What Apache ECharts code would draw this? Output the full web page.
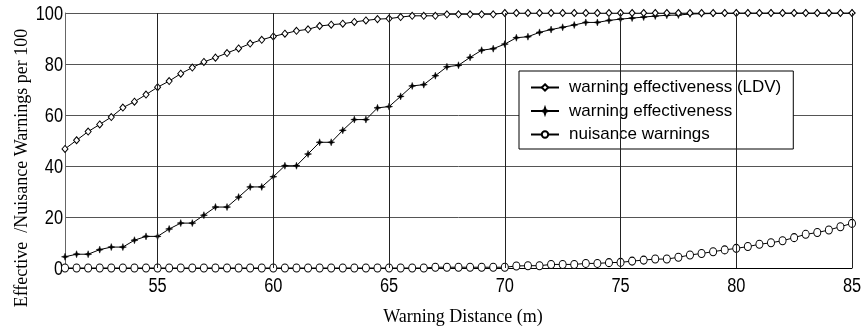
<!DOCTYPE html>
<html>
<head>
<meta charset="utf-8">
<script src="https://cdn.jsdelivr.net/npm/echarts@6/dist/echarts.min.js"></script>
<style>
html,body{margin:0;padding:0;background:#fff;}
#chart{width:867px;height:335px;}
</style>
</head>
<body>
<div id="chart"></div>
<script>
const distances = [51,51.5,52,52.5,53,53.5,54,54.5,55,55.5,56,56.5,57,57.5,58,58.5,59,59.5,60,60.5,61,61.5,62,62.5,63,63.5,64,64.5,65,65.5,66,66.5,67,67.5,68,68.5,69,69.5,70,70.5,71,71.5,72,72.5,73,73.5,74,74.5,75,75.5,76,76.5,77,77.5,78,78.5,79,79.5,80,80.5,81,81.5,82,82.5,83,83.5,84,84.5,85];
const ldvEffectiveness = [46.7,50.1,53.5,56.3,59.2,62.9,65.2,68,70.9,73.3,76.2,78.6,80.8,82.5,84.3,86.1,88,89.5,90.8,91.9,93,93.6,94.9,95.4,95.8,96.5,97.1,97.6,97.8,98.4,98.9,98.9,98.9,99.5,99.5,99.5,99.5,99.5,100,100,100,100,100,100,100,100,100,100,100,100,100,100,100,100,100,100,100,100,100,100,100,100,100,100,100,100,100,100,100];
const effectiveness = [4.4,5.4,5.4,7.2,8.2,8.2,10.9,12.4,12.4,15.3,17.6,17.6,20.7,23.9,23.9,27.8,31.8,31.8,35.8,40.1,40.1,44.7,49.3,49.3,54,58.2,58.2,62.8,63.3,67.3,71.4,71.9,75.4,78.9,79.5,82.6,85.4,86,87.8,90.3,90.7,92.4,93.5,94.4,95.3,96.3,96.3,97.1,97.6,98,98.4,98.8,99.1,99.2,99.6,99.7,99.8,99.9,100,100,100,100,100,100,100,100,100,100,100];
const nuisance = [0,0,0,0,0,0,0,0,0,0,0,0,0,0,0,0,0,0,0,0,0,0,0,0,0,0,0,0,0,0,0,0,0.3,0.3,0.3,0.3,0.3,0.3,0.3,0.8,0.9,0.9,1.4,1.4,1.4,1.8,1.8,2.1,2.2,2.7,3.1,3.5,3.5,4.2,5.1,5.7,6.4,7.1,7.7,8.4,9.3,9.9,10.7,11.9,13.2,13.9,14.9,16.2,17.5];
const xTicks = [55,60,65,70,75,80,85];
const yTicks = [0,20,40,60,80,100];
const seriesNames = ['warning effectiveness (LDV)','warning effectiveness','nuisance warnings'];

const sans = "'Liberation Sans',Arial,sans-serif";
const serif = "'Liberation Serif','Times New Roman',serif";
const pair = arr => distances.map((d,i)=>[d,arr[i]]);
const starPath = 'path://M0,-10 L2.5,-2.5 L10,0 L2.5,2.5 L0,10 L-2.5,2.5 L-10,0 L-2.5,-2.5Z';

const chart = echarts.init(document.getElementById('chart'), null, {renderer:'canvas'});
chart.setOption({
  animation:false,
  backgroundColor:'#fff',
  grid:{left:65,right:15,top:13,bottom:67,containLabel:false},
  legend:{
    orient:'vertical', left:519, top:71,
    padding:[8,12,6,11],
    backgroundColor:'#fff', borderColor:'#000', borderWidth:1,
    itemWidth:28, itemHeight:8, itemGap:6.5,
    data:seriesNames,
    textStyle:{fontFamily:sans, fontSize:17, color:'#000', padding:[0,0,0,5]}
  },
  xAxis:{
    type:'value', min:51, max:85,
    axisLine:{show:true, lineStyle:{color:'#000',width:1}},
    axisTick:{show:false},
    splitLine:{show:false},
    axisLabel:{show:false}
  },
  yAxis:{
    type:'value', min:0, max:100, interval:20,
    axisLine:{show:true, lineStyle:{color:'#666',width:1}},
    axisTick:{show:false},
    splitLine:{show:true, lineStyle:{color:'#555',width:1}},
    axisLabel:{show:false}
  },
  graphic:[
    {type:'text', id:'yname', rotation:Math.PI/2, x:13, y:168, style:{text:'Effective  /Nuisance Warnings per 100', font:"18px "+serif, fill:'#000', textAlign:'center', textVerticalAlign:'top'}},
    {type:'text', id:'xname', x:463, y:317, style:{text:'Warning Distance (m)', font:"18px "+serif, fill:'#000', textAlign:'center', textVerticalAlign:'middle'}}
  ],
  series:[
    {
      name:seriesNames[0], type:'line', data:pair(ldvEffectiveness),
      symbol:'diamond', symbolSize:[6,7], showAllSymbol:true,
      lineStyle:{color:'#000',width:1}, itemStyle:{color:'#fff',borderColor:'#000',borderWidth:1},
      z:4
    },
    {
      name:seriesNames[1], type:'line', data:pair(effectiveness),
      symbol:starPath, symbolSize:7, showAllSymbol:true,
      lineStyle:{color:'#000',width:1}, itemStyle:{color:'#000',borderColor:'#000',borderWidth:0.5},
      z:3
    },
    {
      name:seriesNames[2], type:'line', data:pair(nuisance),
      symbol:'circle', symbolSize:[7,8], showAllSymbol:true,
      lineStyle:{color:'#000',width:1}, itemStyle:{color:'#fff',borderColor:'#000',borderWidth:1},
      z:2,
      markLine:{
        silent:true, symbol:'none', label:{show:false},
        lineStyle:{color:'#222',width:1,type:'solid'},
        data:xTicks.map(v=>({xAxis:v}))
      }
    }
  ]
});

// Tick labels in a narrow face, placed through the chart's own scales
const tickGraphics = [];
xTicks.forEach((v,i)=>{
  const p = chart.convertToPixel({xAxisIndex:0,yAxisIndex:0},[v,0]);
  tickGraphics.push({type:'text', id:'xt'+i, x:p[0], y:p[1]+18, scaleX:0.82,
    style:{text:String(v), font:"20px "+sans, fill:'#000', textAlign:'center', textVerticalAlign:'middle'}});
});
yTicks.forEach((v,i)=>{
  const p = chart.convertToPixel({xAxisIndex:0,yAxisIndex:0},[51,v]);
  tickGraphics.push({type:'text', id:'yt'+i, x:p[0]-2, y:p[1]+1, scaleX:0.82,
    style:{text:String(v), font:"20px "+sans, fill:'#000', textAlign:'right', textVerticalAlign:'middle'}});
});
chart.setOption({graphic:tickGraphics});
</script>
</body>
</html>
